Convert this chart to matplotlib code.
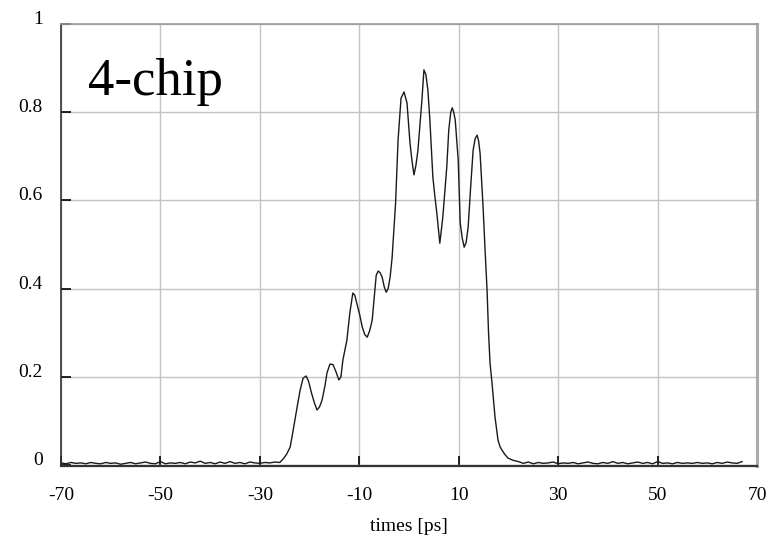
import matplotlib
matplotlib.use("Agg")
import matplotlib.pyplot as plt

plt.rcParams["font.family"] = ["Liberation Serif", "DejaVu Serif"]
plt.rcParams["axes.unicode_minus"] = False

# Measured autocorrelation trace (normalised intensity vs delay)
time_ps = [
    -70, -69, -68, -67, -66, -65, -64, -63, -62, -61,
    -60, -59, -58, -57, -56, -55, -54, -53, -52, -51,
    -50, -49, -48, -47, -46, -45, -44, -43, -42, -41,
    -40, -39, -38, -37, -36, -35, -34, -33, -32, -31,
    -30, -29, -28, -27, -26,
    -25.3, -24.6, -23.9, -23.3, -22.5, -21.9, -21.3, -20.7, -20.2, -19.6,
    -19.0, -18.5, -18.0, -17.5, -16.9, -16.5, -15.9, -15.3, -14.7, -14.1,
    -13.7, -13.3, -12.5, -11.9, -11.3, -10.9, -10.5, -9.9, -9.4, -8.9,
    -8.4, -7.9, -7.4, -7.0, -6.6, -6.2, -5.8, -5.4, -5.0, -4.6,
    -4.2, -3.8, -3.4, -3.0, -2.7, -2.2, -1.6, -1.0, -0.4, 0.2,
    0.6, 1.0, 1.4, 1.8, 2.2, 2.6, 3.0, 3.4, 3.8, 4.2,
    4.8, 5.2, 5.6, 6.2, 6.8, 7.2, 7.6, 8.0, 8.4, 8.7,
    9.0, 9.3, 9.9, 10.3, 10.7, 11.1, 11.5, 11.9, 12.4, 12.9,
    13.3, 13.7, 14.0, 14.3, 14.9, 15.3, 15.7, 16.0, 16.3, 16.7,
    17.3, 17.9, 18.3, 18.7, 19.3, 19.9, 20.9,
    22, 23, 24, 25, 26, 27, 28, 29, 30, 31,
    32, 33, 34, 35, 36, 37, 38, 39, 40, 41,
    42, 43, 44, 45, 46, 47, 48, 49, 50, 51,
    52, 53, 54, 55, 56, 57, 58, 59, 60, 61,
    62, 63, 64, 65, 66, 67,
]
intensity = [
    0.005, 0.003, 0.006, 0.004, 0.005, 0.003, 0.006, 0.004, 0.003, 0.006,
    0.004, 0.005, 0.002, 0.004, 0.006, 0.003, 0.005, 0.007, 0.004, 0.003,
    0.008, 0.003, 0.005, 0.004, 0.006, 0.003, 0.007, 0.005, 0.009, 0.004,
    0.006, 0.003, 0.007, 0.004, 0.008, 0.004, 0.006, 0.003, 0.007, 0.005,
    0.004, 0.006, 0.005, 0.007, 0.006,
    0.014, 0.025, 0.041, 0.079, 0.132, 0.170, 0.197, 0.202, 0.190, 0.163,
    0.140, 0.125, 0.132, 0.147, 0.180, 0.209, 0.229, 0.228, 0.212, 0.193,
    0.200, 0.238, 0.283, 0.345, 0.390, 0.385, 0.367, 0.340, 0.313, 0.296,
    0.290, 0.305, 0.329, 0.380, 0.430, 0.440, 0.436, 0.426, 0.405, 0.392,
    0.400, 0.426, 0.470, 0.540, 0.594, 0.737, 0.832, 0.846, 0.821, 0.730,
    0.690, 0.658, 0.680, 0.714, 0.770, 0.828, 0.896, 0.885, 0.850, 0.782,
    0.653, 0.610, 0.571, 0.503, 0.562, 0.620, 0.676, 0.760, 0.800, 0.810,
    0.800, 0.782, 0.692, 0.549, 0.515, 0.494, 0.505, 0.540, 0.630, 0.714,
    0.740, 0.748, 0.735, 0.707, 0.585, 0.488, 0.397, 0.300, 0.231, 0.186,
    0.109, 0.057, 0.042, 0.034, 0.024, 0.016, 0.011,
    0.008, 0.004, 0.007, 0.003, 0.006, 0.004, 0.005, 0.007, 0.003, 0.005,
    0.004, 0.006, 0.003, 0.005, 0.007, 0.004, 0.003, 0.006, 0.004, 0.008,
    0.004, 0.006, 0.003, 0.005, 0.007, 0.004, 0.006, 0.003, 0.008, 0.004,
    0.005, 0.003, 0.006, 0.004, 0.005, 0.004, 0.006, 0.004, 0.005, 0.003,
    0.006, 0.004, 0.007, 0.005, 0.004, 0.008,
]

x_ticks = [-70, -50, -30, -10, 10, 30, 50, 70]
x_tick_labels = ["-70", "-50", "-30", "-10", "10", "30", "50", "70"]
y_ticks = [0, 0.2, 0.4, 0.6, 0.8, 1.0]
y_tick_labels = ["0", "0.2", "0.4", "0.6", "0.8", "1"]

fig = plt.figure(figsize=(7.76, 5.46), dpi=100)
ax = fig.add_axes([61 / 776, 1 - 466 / 546, 696 / 776, 442 / 546])

ax.plot(time_ps, intensity, color="#1a1a1a", linewidth=1.0)

ax.set_xlim(-70, 70)
ax.set_ylim(-0.002, 1.0)
ax.set_xticks(x_ticks)
ax.set_xticklabels(x_tick_labels)
ax.set_yticks(y_ticks)
ax.set_yticklabels(y_tick_labels)
for lbl in ax.get_yticklabels():
    lbl.set_verticalalignment("baseline")

ax.grid(True, color="#c4c4c4", linewidth=1.0)
ax.set_axisbelow(True)

ax.tick_params(axis="both", direction="in", length=7, width=1.2,
               color="black", labelsize=14)
ax.tick_params(axis="x", pad=15)
ax.tick_params(axis="y", pad=13)

ax.spines["left"].set_color("#333333")
ax.spines["left"].set_linewidth(1.2)
ax.spines["bottom"].set_color("#333333")
ax.spines["bottom"].set_linewidth(1.6)
ax.spines["top"].set_color("#9a9a9a")
ax.spines["top"].set_linewidth(1.2)
ax.spines["right"].set_color("#ababab")
ax.spines["right"].set_linewidth(2.2)

ax.set_xlabel("times [ps]", fontsize=14, labelpad=10)

ax.text(-64.6, 0.839, "4-chip", fontsize=38, va="baseline", ha="left")

fig.savefig("out.png", dpi=100)
